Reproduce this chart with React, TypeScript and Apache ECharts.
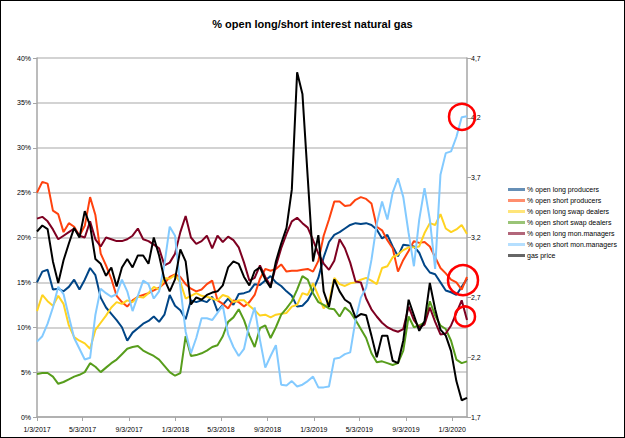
import React, { useEffect, useRef } from "react";
import * as echarts from "echarts";

// Bi-weekly report dates, starting Tuesday 1/3/2017
const N = 82;
const dates: number[] = Array.from({ length: N }, (_, i) => new Date(2017, 0, 3 + 14 * i).getTime());

const tickDates = [
  [2017, 1, 3], [2017, 5, 3], [2017, 9, 3], [2018, 1, 3], [2018, 5, 3],
  [2018, 9, 3], [2019, 1, 3], [2019, 5, 3], [2019, 9, 3], [2020, 1, 3],
];

const seriesNames = [
  "% open long producers",
  "% open short producers",
  "% open long swap dealers",
  "% open short swap dealers",
  "% open long mon.managers",
  "% open short mon.managers",
  "gas price",
];

const colors = ["#004586", "#ff420e", "#ffd320", "#579d1c", "#7e0021", "#83caff", "#000000"];

const longProducers = [
  15.0, 16.2, 16.4, 14.2, 14.3, 14.0, 14.5, 15.3, 14.2, 15.3, 16.6, 15.8, 13.3, 12.2, 11.5, 10.8, 10.0, 8.5,
  9.4, 9.9, 10.4, 10.7, 11.2, 10.6, 11.4, 13.6, 12.4, 11.9, 10.9, 13.0, 12.8, 13.0, 12.8, 13.4, 11.8,
  12.5, 13.2, 12.5, 13.7, 13.8, 14.0, 14.8, 14.7, 15.2, 15.7, 15.0, 14.6, 14.0, 13.5, 12.3, 12.4, 13.0,
  14.1, 15.5, 17.8, 19.5, 20.3, 20.6, 21.0, 21.4, 21.6, 21.5, 21.6, 21.4, 20.9, 19.9, 20.3, 19.0, 17.9,
  19.2, 19.1, 19.0, 18.3, 16.9, 16.1, 15.9, 15.0, 14.1, 13.9, 13.6, 14.5, 15.4,
];

const shortProducers = [
  25.0, 26.2, 26.0, 23.0, 22.6, 20.6, 21.6, 21.2, 20.2, 21.3, 24.5, 22.5, 18.2, 16.9, 15.4, 13.5, 12.8, 12.3,
  13.0, 13.4, 13.6, 13.8, 14.1, 14.4, 14.9, 15.6, 15.9, 15.6, 14.8, 14.3, 14.0, 14.2, 14.8, 15.2, 13.0,
  12.6, 12.1, 13.0, 12.8, 12.3, 12.8, 13.6, 15.4, 16.5, 16.3, 16.5, 17.0, 16.2, 16.3, 16.3, 16.4, 16.5,
  16.2, 17.4, 20.2, 22.0, 24.0, 24.0, 23.5, 23.6, 24.2, 24.5, 24.3, 23.8, 21.2, 20.8, 19.7, 18.8, 16.2,
  17.5, 18.5, 19.6, 19.4, 19.5, 19.0, 17.8, 16.6, 16.0, 15.3, 15.0, 14.2, 15.6,
];

const longSwapDealers = [
  11.8, 13.6, 12.9, 12.4, 13.5, 12.6, 10.2, 8.9, 8.5, 8.2, 7.6, 9.7, 10.5, 11.3, 12.2, 12.8, 12.6, 13.0,
  12.8, 13.4, 13.3, 13.8, 14.5, 14.2, 15.5, 15.4, 15.8, 15.0, 13.2, 13.5, 13.8, 13.5, 13.4, 13.2, 13.0,
  13.6, 13.4, 12.8, 13.0, 13.0, 12.4, 11.9, 11.3, 11.4, 11.1, 11.4, 11.5, 11.6, 12.3, 12.5, 13.8, 13.6,
  14.9, 13.5, 12.1, 12.8, 15.5, 14.8, 14.6, 14.9, 15.0, 15.3, 15.5, 15.2, 14.8, 16.6, 16.8, 17.8, 18.1,
  18.6, 18.9, 18.9, 19.0, 20.5, 21.6, 21.4, 22.6, 21.0, 20.6, 20.9, 21.4, 20.4,
];

const shortSwapDealers = [
  4.8, 4.9, 4.9, 4.5, 3.7, 3.9, 4.2, 4.5, 4.7, 5.0, 6.0, 5.6, 5.0, 5.5, 6.0, 6.4, 7.0, 7.6,
  7.8, 7.9, 7.4, 7.1, 6.8, 6.4, 5.7, 5.0, 4.6, 4.9, 9.0, 6.8, 6.9, 7.1, 7.4, 7.8, 8.0,
  9.0, 10.6, 11.1, 12.0, 10.8, 9.1, 7.8, 9.9, 10.2, 8.8, 10.0, 11.4, 12.1, 12.9, 14.2, 15.7, 15.3,
  13.8, 12.8, 12.5, 12.1, 12.0, 11.2, 12.2, 11.7, 10.8, 9.8, 8.8, 7.1, 6.1, 6.2, 6.0, 5.8, 6.0,
  7.4, 11.2, 10.0, 10.2, 10.5, 12.9, 11.3, 10.2, 9.8, 8.5, 6.4, 6.0, 6.2,
];

const longMonManagers = [
  22.1, 22.3, 21.8, 20.9, 19.8, 20.2, 20.6, 21.0, 20.2, 20.0, 21.8, 19.8, 19.0, 20.0, 19.8, 19.6, 19.6, 19.8,
  20.2, 21.0, 19.8, 19.6, 19.2, 18.8, 16.9, 17.2, 18.2, 20.6, 22.4, 20.0, 19.3, 19.6, 20.2, 18.8, 20.2,
  19.5, 20.1, 19.7, 18.9, 17.2, 15.2, 15.5, 16.9, 15.6, 14.6, 16.8, 18.8, 20.4, 21.8, 22.2, 21.6, 21.1,
  19.7, 18.2, 17.1, 16.4, 17.4, 19.8, 18.8, 17.2, 15.1, 15.0, 13.2, 12.0, 11.2, 10.5, 10.0, 9.7, 9.5,
  9.8, 12.3, 10.8, 10.0, 10.3, 12.2, 10.6, 9.2, 9.3, 10.2, 11.6, 13.0, 10.8,
];

const shortMonManagers = [
  8.4, 9.0, 10.4, 12.2, 14.5, 13.7, 11.2, 8.8, 7.6, 6.4, 6.6, 11.4, 14.3, 13.8, 13.4, 13.7, 15.3, 14.0,
  11.8, 13.5, 15.2, 14.8, 13.2, 14.0, 17.0, 21.2, 20.2, 14.5, 9.5, 7.1, 8.8, 11.0, 11.0, 10.8, 11.6,
  12.4, 9.2, 7.8, 6.8, 7.6, 10.3, 12.2, 8.6, 5.5, 6.8, 8.0, 3.6, 3.5, 4.0, 3.4, 3.6, 4.0,
  4.5, 3.3, 3.3, 3.4, 6.5, 6.6, 7.0, 7.2, 10.8, 13.3, 14.4, 17.5, 21.5, 24.0, 22.0, 25.0, 26.6,
  24.5, 20.5, 16.8, 22.0, 25.5, 22.0, 16.5, 27.0, 29.4, 29.6, 31.2, 33.4, 33.5,
];

const gasPrice = [
  3.25, 3.3, 3.27, 3.0, 2.82, 3.01, 3.15, 3.28, 3.2, 3.42, 3.3, 3.02, 2.98, 2.88, 2.95, 2.79, 2.95, 3.02,
  2.95, 3.05, 3.05, 2.98, 3.2, 3.05, 2.85, 2.75, 2.85, 3.1, 3.0, 2.64, 2.7, 2.68, 2.72, 2.74, 2.75,
  2.8, 2.95, 3.0, 2.98, 2.87, 2.8, 2.92, 2.95, 2.85, 2.78, 3.0, 3.15, 3.28, 3.6, 4.58, 4.4, 3.7,
  3.0, 3.22, 2.75, 2.62, 2.85, 2.75, 2.68, 2.65, 2.53, 2.56, 2.55, 2.38, 2.2, 2.38, 2.38, 2.17, 2.15,
  2.34, 2.68, 2.55, 2.42, 2.5, 2.82, 2.6, 2.43, 2.38, 2.25, 2.0, 1.84, 1.86,
];

const allSeries = [
  longProducers, shortProducers, longSwapDealers, shortSwapDealers,
  longMonManagers, shortMonManagers, gasPrice,
];

// red annotation circles: [value on % axis, pixel offset x, radius]
const circleValues = [33.45, 15.25, 11.2];
const circleDx = [-5, -4, -2];
const circleR = [13, 15, 10];

const FONT = "'Liberation Sans', Arial, sans-serif";

function fmtDate(v: number) {
  const d = new Date(v);
  return `${d.getMonth() + 1}/${d.getDate()}/${d.getFullYear()}`;
}

export default function App() {
  const ref = useRef<HTMLDivElement>(null);
  useEffect(() => {
    if (!ref.current) return;
    const chart = echarts.init(ref.current, null, { renderer: "svg" });
    const tickVals = tickDates.map(([y, m, d]) => new Date(y, m - 1, d).getTime());
    const axisGray = "#a6a6a6";
    const option: any = {
      animation: false,
      backgroundColor: "#ffffff",
      title: {
        text: "% open long/short interest natural gas",
        left: "center",
        top: 12,
        textStyle: { fontFamily: FONT, fontSize: 11, fontWeight: "bold", color: "#000" },
      },
      legend: {
        orient: "vertical",
        left: 507,
        top: 184,
        padding: 0,
        itemWidth: 17,
        itemHeight: 3,
        itemGap: 2,
        icon: "rect",
        itemStyle: { opacity: 0.6 },
        textStyle: { fontFamily: FONT, fontSize: 7, color: "#000", lineHeight: 9, padding: [0, 0, 0, -3] },
        data: seriesNames,
      },
      grid: { left: 36, top: 57, width: 430, height: 359, containLabel: false },
      xAxis: {
        type: "value",
        min: dates[0],
        max: dates[N - 1],
        axisLine: { lineStyle: { color: axisGray, width: 1.5 } },
        axisTick: { show: true, customValues: tickVals, length: 4, lineStyle: { color: axisGray } },
        axisLabel: {
          customValues: tickVals,
          formatter: (v: number) => fmtDate(v),
          fontFamily: FONT,
          fontSize: 7,
          color: "#000",
          margin: 9,
        },
        splitLine: { show: false },
      },
      yAxis: [
        {
          type: "value",
          min: 0,
          max: 40,
          interval: 5,
          position: "left",
          axisLine: { show: true, lineStyle: { color: axisGray, width: 1.5 } },
          axisTick: { show: true, length: 4, lineStyle: { color: axisGray } },
          axisLabel: { formatter: "{value}%", fontFamily: FONT, fontSize: 7, color: "#000", margin: 6 },
          splitLine: { show: true, lineStyle: { color: "#c4c4c4", width: 1.5 } },
        },
        {
          type: "value",
          min: 1.7,
          max: 4.7,
          interval: 0.5,
          position: "right",
          axisLine: { show: true, lineStyle: { color: axisGray, width: 1.5 } },
          axisTick: { show: true, length: 4, lineStyle: { color: axisGray } },
          axisLabel: {
            formatter: (v: number) => v.toFixed(1).replace(".", ","),
            fontFamily: FONT,
            fontSize: 7,
            color: "#000",
            margin: 4,
          },
          splitLine: { show: false },
        },
      ],
      series: allSeries.map((vals, k) => ({
        name: seriesNames[k],
        type: "line",
        yAxisIndex: k === 6 ? 1 : 0,
        symbol: "none",
        showSymbol: false,
        color: colors[k],
        lineStyle: { width: 2, color: colors[k] },
        data: vals.map((v, i) => [dates[i], v]),
      })),
    };
    chart.setOption(option);

    const lastDate = dates[N - 1];
    const graphics = circleValues.map((v, k) => {
      const p = chart.convertToPixel({ xAxisIndex: 0, yAxisIndex: 0 }, [lastDate, v]) as number[];
      return {
        type: "circle",
        z: 100,
        shape: { cx: p[0] + circleDx[k], cy: p[1], r: circleR[k] },
        style: { fill: "none", stroke: "#ff0000", lineWidth: 2.5 },
      };
    });
    chart.setOption({ graphic: graphics });

    return () => chart.dispose();
  }, []);

  return (
    <div
      style={{
        position: "fixed",
        left: 0,
        top: 0,
        width: 625,
        height: 438,
        border: "1px solid #000",
        boxSizing: "border-box",
        background: "#fff",
      }}
    >
      <div ref={ref} style={{ width: 623, height: 436 }} />
    </div>
  );
}
